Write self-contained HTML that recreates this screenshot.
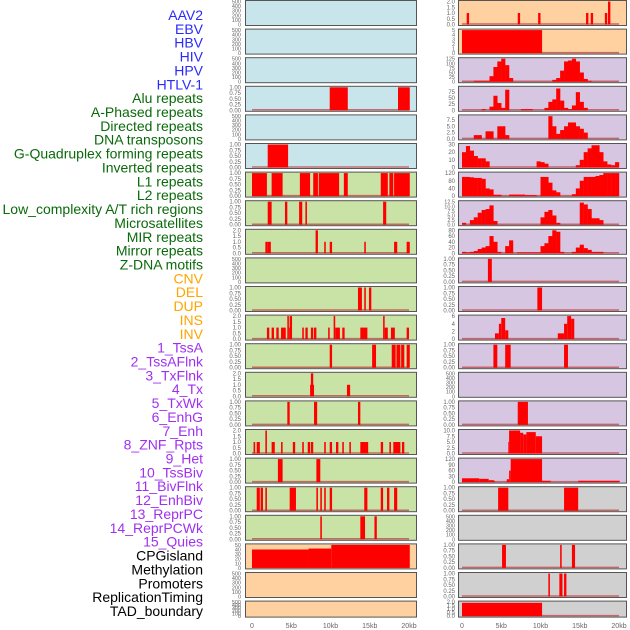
<!DOCTYPE html>
<html><head><meta charset="utf-8"><style>
html,body{margin:0;padding:0;background:#fff;width:630px;height:630px;overflow:hidden}
svg{display:block}
</style></head><body>
<svg id="chart" width="630" height="630" xmlns="http://www.w3.org/2000/svg" font-family="Liberation Sans, sans-serif"></svg>
<script>
// ---- labels ----
const labelNames = ["AAV2","EBV","HBV","HIV","HPV","HTLV-1","Alu repeats","A-Phased repeats","Directed repeats","DNA transposons","G-Quadruplex forming repeats","Inverted repeats","L1 repeats","L2 repeats","Low_complexity A/T rich regions","Microsatellites","MIR repeats","Mirror repeats","Z-DNA motifs","CNV","DEL","DUP","INS","INV","1_TssA","2_TssAFlnk","3_TxFlnk","4_Tx","5_TxWk","6_EnhG","7_Enh","8_ZNF_Rpts","9_Het","10_TssBiv","11_BivFlnk","12_EnhBiv","13_ReprPC","14_ReprPCWk","15_Quies","CPGisland","Methylation","Promoters","ReplicationTiming","TAD_boundary"];
const labelGroups = [6,13,5,15,5];
const groupColors = ["#2a2aff","#0a6a0a","#ffa500","#a030f0","#000000"];
const xTickValues = [0,5,10,15,20];
const xTickLabels = ["0","5kb","10kb","15kb","20kb"];

// ---- interval data [startKb, endKb, value] ----
const L4 = [[9.9,12.2,1],[18.6,20.1,1]];
const L6 = [[2.0,4.6,1]];
const L7 = [[0,1.9,1],[2.5,3.9,1],[6.1,7.4,1],[7.8,8.4,1],[8.5,11.1,1],[11.7,12.2,1],[16.4,17.3,1],[17.5,18.0,1],[18.1,20.1,1]];
const L8 = [[2.0,2.5,1],[4.2,4.5,1],[6.0,6.4,1],[6.8,7.0,1],[16.7,17.1,1]];
const L9 = [[1.7,2.0,1],[2.0,2.4,1],[8.1,8.4,2],[9.2,9.4,1],[9.9,10.2,1],[14.3,14.5,1],[18.1,18.5,1],[19.7,20.1,1]];
const L11 = [[13.5,14.0,1],[14.3,14.5,1],[14.9,15.2,1]];
const L12 = [[1.9,2.2,1],[2.5,2.8,1],[3.1,3.4,1],[3.7,4.3,1],[4.5,4.7,2],[4.7,4.8,1],[4.8,5.1,2],[6.4,6.6,1],[6.8,7.1,1],[7.5,7.8,1],[7.9,8.2,1],[9.7,9.9,1],[10.4,10.6,2],[10.6,11.2,1],[11.5,11.8,1],[13.8,14.7,1],[16.7,16.9,2],[16.9,17.3,1],[17.7,18.2,1],[19.7,20.0,1]];
const L13 = [[9.9,10.2,1],[15.3,15.8,1],[17.8,18.3,1],[18.4,18.9,1],[19.0,19.4,1],[19.7,20.1,1]];
const L14 = [[7.4,7.9,1],[7.5,7.8,2],[12.1,12.5,1]];
const L15 = [[4.5,4.8,1],[7.9,8.3,1],[13.5,13.8,1]];
const L16 = [[0.2,0.4,1],[0.6,1.0,1],[1.7,1.9,2],[2.5,2.9,1],[3.7,3.9,1],[5.2,5.5,1],[6.4,6.6,1],[7.1,7.4,1],[7.5,7.8,1],[9.2,9.4,1],[9.9,10.2,1],[10.7,11.0,1],[11.5,11.7,1],[12.4,12.6,1],[13.8,14.8,1],[16.4,16.7,1],[17.5,17.7,1],[18.0,18.9,1],[19.1,19.4,1]];
const L17 = [[3.3,3.9,1],[8.2,8.7,1]];
const L18 = [[0.6,1.0,1],[1.1,1.4,1],[1.7,1.9,1],[4.8,5.6,1],[8.2,8.4,1],[8.7,8.9,1],[9.2,9.4,1],[9.9,10.2,1],[14.3,14.7,1],[16.4,16.7,1],[17.2,17.5,1],[18.1,18.5,1]];
const L19 = [[8.7,8.9,1],[13.8,14.4,1],[15.6,15.9,1]];
const L20 = [[0,7.2,40],[7.2,10.1,42],[10.1,20.1,50]];
const R1 = [[0.6,0.9,1],[7.1,7.4,1],[9.7,10.0,1],[15.8,16.1,1],[16.4,16.7,1],[18.2,18.5,1],[18.6,18.9,2]];
const R2 = [[0,10.2,5]];
const R10 = [[3.3,3.8,1]];
const R11 = [[9.6,10.2,1]];
const R12 = [[4.2,4.7,1.5],[4.7,5.0,4],[5.0,5.5,5.5],[5.5,5.9,2.3],[12.2,13.0,1.5],[13.0,13.4,4],[13.4,13.9,6],[13.9,14.3,5.3]];
const R13 = [[4.0,4.5,1],[5.5,6.2,1],[13.0,13.5,1]];
const R15 = [[7.1,8.4,1]];
const R16 = [[5.9,6.0,5],[6.0,7.4,10],[7.4,7.8,9],[7.8,8.2,8.3],[8.2,9.4,9.3],[9.4,10.2,7.5]];
const R17 = [[0,2.2,20],[2.2,3.4,17],[3.4,4.1,10],[4.1,4.2,5],[5.7,6.0,15],[6.0,6.2,60],[6.2,10.2,120],[10.2,11.3,7],[14.8,20.1,7]];
const R18 = [[4.6,5.9,1],[13.0,14.8,1]];
const R20 = [[5.1,5.6,1],[12.5,12.7,1],[14.0,14.4,1]];
const R21 = [[11.0,11.2,1],[12.4,12.8,1],[13.0,13.3,1]];
const R22 = [[0,10.2,1.9]];

// ---- histogram data (40 bins of 0.5kb) ----
const R3 = [0,0,0,5,5,5,5,30,80,110,125,90,20,0,0,0,0,0,0,0,0,0,0,10,20,60,110,115,125,110,50,15,5,0,0,0,0,0,0,0];
const R4 = [0,0,0,0,0,5,0,15,60,30,10,85,0,0,0,5,5,5,0,0,0,10,35,45,90,40,10,5,20,75,35,10,0,0,0,0,0,0,0,0];
const R5 = [0,0,0,1.5,1.5,0,3,3,0,5,5,1.5,0,0,0,0,0,0,0,0,0,0,9,5,2,3.5,5,6.5,6.5,5,4,2.5,0,0,0,0,0,0,0,0];
const R6 = [20,28,22,15,12,12,8,0,0,0,0,0,0,0,0,0,0,0,0,8,7,5,0,0,0,0,0,0,0,3,10,20,25,29,29,20,8,4,3,7];
const R7 = [100,100,98,95,95,90,40,35,7,7,0,0,8,8,8,8,5,5,5,0,100,100,70,30,20,0,0,0,10,40,80,100,100,100,105,110,120,120,120,120];
const R8 = [1,0,2.5,4,6.5,8,8.5,10.5,2,0,0,0,0,0,0,0,0,0,0,0,4,7,8,5,1,0,0,0,0,0,12,11,8.5,3.5,3.5,2.5,0,0,0,0];
const R9 = [5,3,5,8,15,20,25,60,40,5,0,25,45,0,3,3,3,3,3,3,25,35,60,80,75,5,0,0,5,20,30,18,12,5,5,5,0,0,0,0];

// ---- tick label sets ----
const tEmpty = ["0","100","200","300","400","500"];
const tUnit = ["0.00","0.25","0.50","0.75","1.00"];
const tTwo = ["0.0","0.5","1.0","1.5","2.0"];

const BG = {b:"#c9e5ec", g:"#c9e2a5", o:"#ffd1a1", p:"#d6c6e2", y:"#d0d0d0"};
// panel specs: [dataName, type('i' interval,'h' hist,'e' empty), bg, max, tickLabels, tickValues]
function ev(t){return t.map(Number);}
const leftPanels = [
 [null,'e','b',500,tEmpty],[null,'e','b',500,tEmpty],[null,'e','b',500,tEmpty],
 [L4,'i','b',1,tUnit],[null,'e','b',500,tEmpty],[L6,'i','b',1,tUnit],
 [L7,'i','g',1,tUnit],[L8,'i','g',1,tUnit],[L9,'i','g',2,tTwo],[null,'e','g',500,tEmpty],
 [L11,'i','g',1,tUnit],[L12,'i','g',2,tTwo],[L13,'i','g',1,tUnit],[L14,'i','g',2,tTwo],
 [L15,'i','g',1,tUnit],[L16,'i','g',2,tTwo],[L17,'i','g',1,tUnit],[L18,'i','g',1,tUnit],
 [L19,'i','g',1,tUnit],[L20,'i','o',50,["0","10","20","30","40","50"]],
 [null,'e','o',500,tEmpty],[null,'e','o',500,tEmpty]
];
const rightPanels = [
 [R1,'i','o',2,tTwo],[R2,'i','o',5,["0","1","2","3","4","5"]],
 [R3,'h','p',125,["0","25","50","75","100","125"]],[R4,'h','p',95,["0","25","50","75"]],
 [R5,'h','p',9.1,["0.0","2.5","5.0","7.5"]],[R6,'h','p',30,["0","10","20","30"]],
 [R7,'h','p',120,["0","40","80","120"]],[R8,'h','p',12.5,["0.0","2.5","5.0","7.5","10.0","12.5"]],
 [R9,'h','p',80,["0","20","40","60","80"]],[R10,'i','p',1,tUnit],[R11,'i','p',1,tUnit],
 [R12,'i','p',6,["0","2","4","6"]],[R13,'i','p',1,tUnit],[null,'e','p',500,tEmpty],
 [R15,'i','p',1,tUnit],[R16,'i','p',10,["0.0","2.5","5.0","7.5","10.0"]],
 [R17,'i','p',120,["0","30","60","90","120"]],[R18,'i','y',1,tUnit],[null,'e','y',500,tEmpty],
 [R20,'i','y',1,tUnit],[R21,'i','y',1,tUnit],[R22,'i','y',2,tTwo]
];

const svg = document.getElementById('chart');
const NS = "http://www.w3.org/2000/svg";
function mk(tag, attrs, parent){const e=document.createElementNS(NS,tag);for(const k in attrs)e.setAttribute(k,attrs[k]);(parent||svg).appendChild(e);return e;}

// labels
let li=0;
labelGroups.forEach((n,gi)=>{for(let j=0;j<n;j++){const t=mk('text',{x:203,y:15+li*13.86+5,'text-anchor':'end','font-size':'14',fill:groupColors[gi]});


t.textContent=labelNames[li];li++;}});

function drawColumn(panels, colX0, colX1, dataX0, dataX1, tickX, colName){
  const xs = kb => dataX0 + (kb/20)*(dataX1-dataX0);
  panels.forEach((p,i)=>{
    const top = i*28.6 + 0.5, h = (i===21)?16:25;
    const g = mk('g',{});
    
    
    mk('rect',{x:colX0,y:top,width:colX1-colX0,height:h,fill:BG[p[2]],stroke:'none'},g);
    const y0 = top+h-1, yTop = top+1;
    const ys = v => y0 - (v/p[3])*(y0-yTop);
    // ticks
    const tl = p[4];
    tl.forEach(lbl=>{
      const t=mk('text',{x:tickX,y:ys(Number(lbl))+2,'text-anchor':'end','font-size':(p[1]==='e'||tl.length>5)?'5.5':'6',fill:'#666'},g);
      
      
      t.textContent=lbl;
    });
    if(p[1]!=='e'){
      mk('line',{x1:xs(0),x2:xs(20),y1:y0-0.5,y2:y0-0.5,stroke:'rgba(190,60,60,0.7)','stroke-width':1.5},g);
    }
    if(p[1]==='i'){
      p[0].forEach(d=>{const r=mk('rect',{x:xs(d[0]),y:ys(d[2]),width:Math.max(0.8,xs(d[1])-xs(d[0])),height:y0-ys(d[2]),fill:'#ff0000'},g);
        
        });
    } else if(p[1]==='h'){
      p[0].forEach((v,bi)=>{if(v<=0)return;const r=mk('rect',{x:xs(bi*0.5),y:ys(v),width:xs((bi+1)*0.5)-xs(bi*0.5)+0.2,height:y0-ys(v),fill:'#ff0000'},g);
        
        });
    }
    mk('rect',{x:colX0,y:top,width:colX1-colX0,height:h,fill:'none',stroke:'#555','stroke-width':1},g);
  });
  xTickValues.forEach((v,k)=>{const t=mk('text',{x:xs(v),y:628,'text-anchor':'middle','font-size':'7',fill:'#666'});
    
    
    t.textContent=xTickLabels[k];});
}
drawColumn(leftPanels,245.5,416.5,252,409,241,'left');
drawColumn(rightPanels,458.5,626.5,462,619,455,'right');
</script>
</body></html>
